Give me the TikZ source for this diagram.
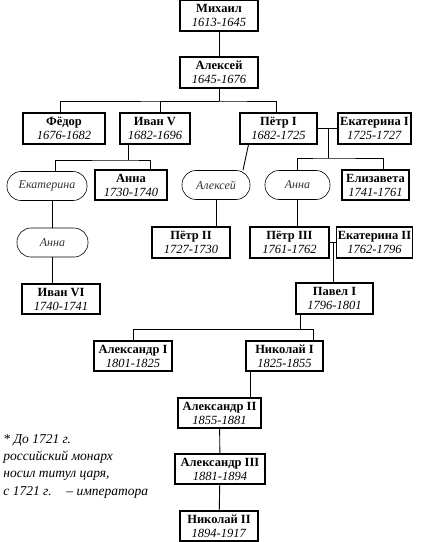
\documentclass[tikz,border=0pt]{standalone}
\usepackage{fontspec}
\setmainfont{Liberation Serif}
\usepackage{tikz}
\usetikzlibrary{positioning}

\begin{document}
\begin{tikzpicture}[x=1pt,y=-1pt,line width=0.9pt,
  tsar/.style={draw,rectangle,line width=1.2pt,minimum height=31pt,align=center,inner sep=1pt,
    font=\fontsize{12.5}{14}\selectfont},
  kin/.style={draw,rectangle,rounded corners=14pt,line width=0.6pt,minimum height=29pt,
    inner sep=1pt,font=\fontsize{12}{13}\selectfont\itshape,text=black!80}]
\useasboundingbox (0,0) rectangle (421,542);

% row 1-2
\node[tsar,minimum width=78pt] (mikhail) at (219,15.5) {\textbf{Михаил}\\\textit{1613-1645}};
\node[tsar,minimum width=78pt] (aleksei) at (219,72.5) {\textbf{Алексей}\\\textit{1645-1676}};

% children of Aleksei
\node[tsar,minimum width=82pt] (fedor) at (64,128.5) {\textbf{Фёдор}\\\textit{1676-1682}};
\node[tsar,minimum width=70pt] (ivan5) at (155,128.5) {\textbf{Иван V}\\\textit{1682-1696}};
\node[tsar,minimum width=77pt] (petr1) at (278.5,128.5) {\textbf{Пётр I}\\\textit{1682-1725}};
\node[tsar,minimum width=73pt] (ekat1) at (374.5,128.5) {\textbf{Екатерина I}\\\textit{1725-1727}};

% third row
\node[kin,minimum width=80pt] (ekat) at (47,186) {Екатерина};
\node[tsar,minimum width=72pt,minimum height=30pt] (annaI) at (131,185) {\textbf{Анна}\\\textit{1730-1740}};
\node[kin,minimum width=68pt] (alexey) at (216,185) {Алексей};
\node[kin,minimum width=65pt] (annaP) at (297.5,185) {Анна};
\node[tsar,minimum width=67pt,minimum height=30pt] (elizaveta) at (375.5,185) {\textbf{Елизавета}\\\textit{1741-1761}};

% fourth row
\node[kin,minimum width=71pt] (annaL) at (52.5,242.5) {Анна};
\node[tsar,minimum width=78pt] (petr2) at (191,242.5) {\textbf{Пётр II}\\\textit{1727-1730}};
\node[tsar,minimum width=79pt] (petr3) at (289.5,242.5) {\textbf{Пётр III}\\\textit{1761-1762}};
\node[tsar,minimum width=73pt] (ekat2) at (374.5,242.5) {\textbf{Екатерина II}\\\textit{1762-1796}};

\node[tsar,minimum width=78pt,minimum height=30pt] (ivan6) at (61,299) {\textbf{Иван VI}\\\textit{1740-1741}};
\node[tsar,minimum width=77pt] (pavel) at (334.5,298.5) {\textbf{Павел I}\\\textit{1796-1801}};

\node[tsar,minimum width=78pt,minimum height=30pt] (alex1) at (133,356) {\textbf{Александр I}\\\textit{1801-1825}};
\node[tsar,minimum width=77pt,minimum height=30pt] (nik1) at (284.5,356) {\textbf{Николай I}\\\textit{1825-1855}};

\node[tsar,minimum width=83pt,minimum height=30pt] (alex2) at (219.5,413) {\textbf{Александр II}\\\textit{1855-1881}};
\node[tsar,minimum width=90pt,minimum height=30pt] (alex3) at (220,469) {\textbf{Александр III}\\\textit{1881-1894}};
\node[tsar,minimum width=78pt,minimum height=30pt] (nik2) at (219,526) {\textbf{Николай II}\\\textit{1894-1917}};

% note
\node[anchor=north west,align=left,inner sep=0pt,font=\fontsize{13.5}{17.3}\selectfont\itshape] (note) at (3,434)
  {* До 1721 г.\\российский монарх\\носил титул царя,\\с 1721 г.\hspace{1.1em}– императора};

% junctions
\coordinate (j1) at (219,101);
\coordinate (j2) at (128,160);
\coordinate (m1) at (328,128.5);
\coordinate (j3) at (328,158);
\coordinate (m2) at (333,242.5);
\coordinate (j4) at (300,329);
\coordinate (j4a) at (313,329);

% lines
\draw (mikhail) -- (aleksei);
\draw (aleksei) -- (j1);
\draw ([xshift=-4pt]fedor.north) |- (j1) -| ([xshift=-2.5pt]petr1.north);
\draw ([xshift=5pt]ivan5.north) |- (j1);

\draw (j2 |- ivan5.south) -- (j2);
\draw ([xshift=8pt]ekat.north) |- (j2) -| ([xshift=19pt]annaI.north);
\draw (annaL.north |- ekat.south) -- (annaL.north);
\draw (annaL.south) -- (annaL.south |- ivan6.north);

\draw ([xshift=-30pt]petr1.south) -- ([xshift=27pt]alexey.north);
\draw (alexey.south) -- (alexey.south |- petr2.north);

\draw (petr1.east) -- (ekat1.west);
\draw (m1) -- (j3);
\draw (annaP.north) |- (j3) -| ([xshift=7.5pt]elizaveta.north);
\draw (annaP.south) -- (annaP.south |- petr3.north);

\draw (petr3.east) -- (ekat2.west);
\draw (m2) -- (m2 |- pavel.north);

\draw (j4 |- pavel.south) -- (j4);
\draw (alex1.north) |- (j4a) -- (j4a |- nik1.north);
\draw ([xshift=5pt]nik1.south west) -- ([xshift=5pt]nik1.south west |- alex2.north);
\draw (alex2) -- (alex3);
\draw (alex3) -- (nik2);
\end{tikzpicture}
\end{document}
